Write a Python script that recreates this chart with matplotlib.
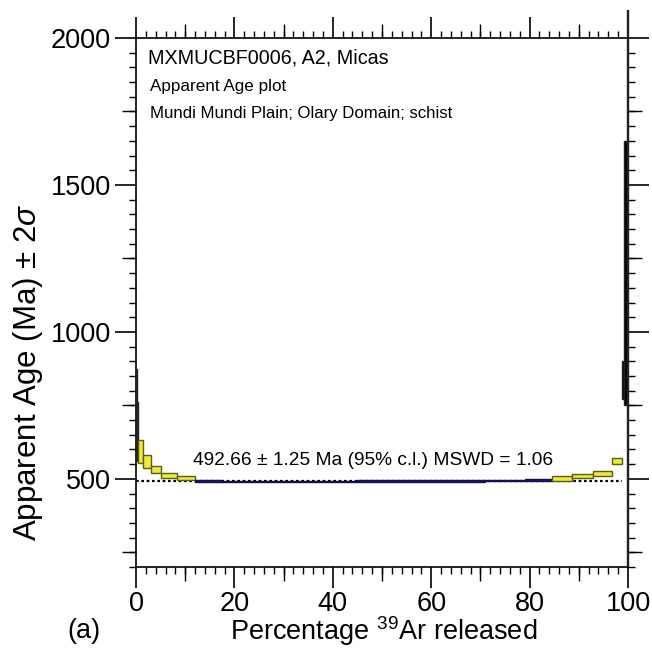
import matplotlib
matplotlib.use("Agg")
import matplotlib.pyplot as plt
from matplotlib.ticker import MultipleLocator, FixedLocator, NullFormatter

plt.rcParams["font.family"] = ["Liberation Sans", "DejaVu Sans"]
plt.rcParams["mathtext.fontset"] = "custom"
plt.rcParams["mathtext.rm"] = "Liberation Sans"
plt.rcParams["mathtext.it"] = "Liberation Sans:italic"

# Step-heating spectrum: cumulative 39Ar release edges (%), apparent ages and 2-sigma errors (Ma)
pct_edges = [0.0, 0.2, 0.4, 1.5, 3.0, 5.0, 8.3, 12.0, 17.5, 23.8, 45.0, 71.0,
             79.0, 84.5, 88.6, 92.9, 96.7, 98.8, 99.2, 99.8, 100.0]
ages = [720, 660, 592, 558, 531, 513, 503, 493, 491, 492, 492.5, 494,
        495, 501, 510, 518, 560, 835, 1200, 1150]
errors = [155, 100, 39, 22, 12, 8.5, 8, 4, 3, 2, 2, 3,
          4, 8, 8, 8, 10, 65, 450, 945]
# step class: 0 = excluded high-error, 1 = excluded, 2 = plateau
step_class = [0, 0, 1, 1, 1, 1, 1, 2, 2, 2, 2, 2, 2, 1, 1, 1, 1, 0, 0, 0]

plateau_age = 492.66
plateau_err = 1.25
mswd = 1.06

fill_colors = {0: "#000000", 1: "#eaea3c", 2: "#1e1e7c"}
edge_colors = {0: "#222222", 1: "#5c5c14", 2: "#10104a"}

fig = plt.figure(figsize=(6.52, 6.50), dpi=100)
ax = fig.add_axes([136 / 652, 1 - 567 / 650, (628 - 136) / 652, (567 - 38) / 650])

# plateau reference line
ax.plot([0, 98.8], [plateau_age, plateau_age], linestyle=(0, (1.2, 1.2)),
        color="black", lw=1.6, zorder=1)

for i, (a, e, c) in enumerate(zip(ages, errors, step_class)):
    left = pct_edges[i]
    width = pct_edges[i + 1] - pct_edges[i]
    ax.bar(left, 2 * e, bottom=a - e, width=width, align="edge",
           facecolor=fill_colors[c], edgecolor=edge_colors[c], linewidth=1.0,
           zorder=3, clip_on=False)

ax.set_xlim(0, 100)
ax.set_ylim(200, 2000)

# tick layout: long major, medium and short minor ticks, all pointing outward
for side in ("left", "right", "top", "bottom"):
    ax.spines[side].set_linewidth(1.2)

ax.yaxis.set_major_locator(FixedLocator([500, 1000, 1500, 2000]))
ax.yaxis.set_minor_locator(MultipleLocator(50))
ax.xaxis.set_major_locator(MultipleLocator(20))
ax.xaxis.set_minor_locator(MultipleLocator(2))
ax.tick_params(axis="both", which="major", direction="out", length=15, width=1.2,
               labelsize=19.5, top=True, right=True, labeltop=False, labelright=False)
ax.tick_params(axis="both", which="minor", direction="out", length=5, width=1.0,
               top=True, right=True)
ax.tick_params(axis="x", which="major", pad=2)
ax.tick_params(axis="y", which="major", pad=3)

for loc in ("left", "right"):
    sec = ax.secondary_yaxis(loc)
    sec.set_yticks([250, 750, 1250, 1750])
    sec.yaxis.set_major_formatter(NullFormatter())
    sec.tick_params(direction="out", length=10, width=1.0)
    sec.spines[loc].set_visible(False)
for loc in ("top", "bottom"):
    sec = ax.secondary_xaxis(loc)
    sec.set_xticks([10, 30, 50, 70, 90])
    sec.xaxis.set_major_formatter(NullFormatter())
    sec.tick_params(direction="out", length=10, width=1.0)
    sec.spines[loc].set_visible(False)

ax.set_xticks([0, 20, 40, 60, 80, 100])
ax.set_xticklabels(["0", "20", "40", "60", "80", "100"])

ax.text(0.024, 0.962, "MXMUCBF0006, A2, Micas", transform=ax.transAxes,
        fontsize=14.2, va="center", ha="left")
ax.text(0.028, 0.909, "Apparent Age plot", transform=ax.transAxes,
        fontsize=12.3, va="center", ha="left")
ax.text(0.028, 0.858, "Mundi Mundi Plain; Olary Domain; schist", transform=ax.transAxes,
        fontsize=12.1, va="center", ha="left")

ax.text(48.2, 563,
        f"{plateau_age:.2f} \u00b1 {plateau_err:.2f} Ma (95% c.l.) MSWD = {mswd:.2f}",
        fontsize=13.8, ha="center", va="center")

fig.text(28 / 652, 1 - 372 / 650, "Apparent Age (Ma) \u00b1 2$\\sigma$", rotation=90,
         fontsize=22.5, ha="center", va="center")
fig.text(384 / 652, 1 - 631 / 650, "Percentage $^{39}$Ar released",
         fontsize=19.5, ha="center", va="center")
fig.text(84 / 652, 1 - 631 / 650, "(a)", fontsize=19.5, ha="center", va="center")

fig.savefig("out.png", dpi=100)
